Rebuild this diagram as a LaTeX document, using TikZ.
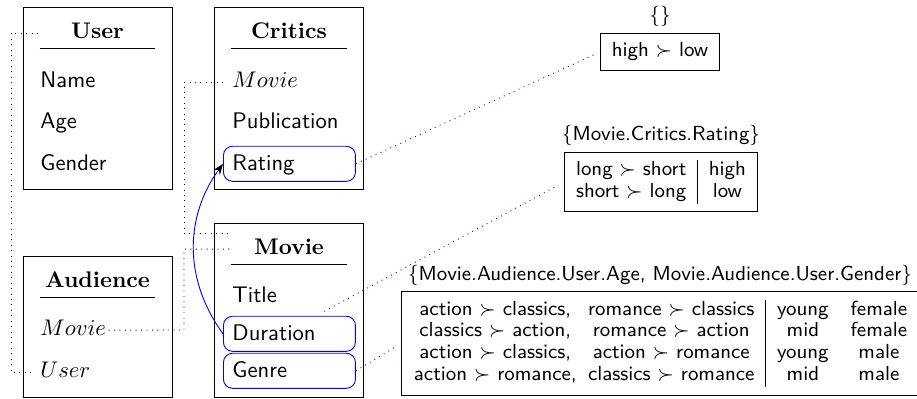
\documentclass[tikz,border=0pt]{standalone}
\usepackage{amssymb}
\usetikzlibrary{positioning,arrows.meta}
\setlength{\tabcolsep}{5pt}

\tikzset{
  entity/.style={draw, minimum width=65.9pt, inner sep=0pt},
  etitle/.style={font=\bfseries, text width=50.9pt, align=center, inner xsep=0pt, inner ysep=4.4pt, text depth=0pt, anchor=base},
  attr/.style={font=\sffamily, anchor=base west, inner xsep=4pt, inner ysep=3pt, text height=7.5pt, text depth=2pt},
  hl/.style={draw=blue, rounded corners=4pt, text width=50.4pt, align=left},
  ref/.style={dotted},
  pref/.style={draw, font=\sffamily\fontsize{9}{9.7}\selectfont, inner xsep=0pt, inner ysep=3.5pt},
  plabel/.style={font=\sffamily\fontsize{9}{9.7}\selectfont, inner sep=1.5pt},
  plink/.style={blue, dotted, shorten >=3pt},
}

\begin{document}
\begin{tikzpicture}[x=0.4425pt,y=-0.4425pt]
\useasboundingbox (0,0) rectangle (917,398);

\node[entity, minimum height=80.5pt] (user) at (97.5,98) {};
\node[etitle] (user-t) at (97.5,38) {User};
\draw (user-t.south west) -- (user-t.south east);
\node[attr] (us-name) at (31,87) {Name};
\node[attr] (us-age) at (31,128) {Age};
\node[attr] (us-gender) at (31,170) {Gender};

\node[entity, minimum height=80.5pt] (critics) at (289,98) {};
\node[etitle] (cr-t) at (289,38) {Critics};
\draw (cr-t.south west) -- (cr-t.south east);
\node[attr] (cr-movie) at (223,87) {$Movie$};
\node[attr] (cr-pub) at (223,128) {Publication};
\node[attr, hl] (cr-rating) at (223,170) {Rating};

\node[entity, minimum height=62.4pt] (audience) at (97.5,326.5) {};
\node[etitle] (au-t) at (97.5,287) {Audience};
\draw (au-t.south west) -- (au-t.south east);
\node[attr] (au-movie) at (31,335) {$Movie$};
\node[attr] (au-user) at (31,377) {$User$};

\node[entity, minimum height=77pt] (movie) at (289,310) {};
\node[etitle] (mv-t) at (289,254) {Movie};
\draw (mv-t.south west) -- (mv-t.south east);
\node[attr] (mv-title) at (223,302) {Title};
\node[attr, hl] (mv-dur) at (223,340) {Duration};
\node[attr, hl] (mv-genre) at (223,377) {Genre};

\draw[ref] (au-user.mid west) -- ++(-20,0) |- (user-t.mid west);
\draw[ref] (cr-movie.mid west) -- ++(-39,0) |- ([yshift=7pt]mv-t.mid west);
\draw[ref] ([xshift=-3pt]au-movie.mid east) -- (184,330) |- (mv-t.mid west);

\draw[blue, -{Stealth[black]}] (mv-dur.west) to[bend left=36] (cr-rating.west);

\node[pref] (p-rating) at (660,52) {\begin{tabular}{c}
high $\succ$ low
\end{tabular}};
\node[plabel, above=1pt of p-rating] (p-rating-l) {\{\}};

\node[pref] (p-dur) at (661,182) {\begin{tabular}{c|c}
long $\succ$ short & high \\
short $\succ$ long & low
\end{tabular}};
\node[plabel, above=1pt of p-dur] (p-dur-l) {\{Movie.Critics.Rating\}};

\node[pref] (p-genre) at (660,343.5) {\begin{tabular}{@{\hspace{5.5pt}}c@{\hspace{5pt}}c|c@{\hspace{9.7pt}}c@{\hspace{5pt}}}
action $\succ$ classics, & romance $\succ$ classics & young & female \\
classics $\succ$ action, & romance $\succ$ action & mid & female \\
action $\succ$ classics, & action $\succ$ romance & young & male \\
action $\succ$ romance, & classics $\succ$ romance & mid & male
\end{tabular}};
\node[plabel, above=1pt of p-genre] (p-genre-l) {\{Movie.Audience.User.Age, Movie.Audience.User.Gender\}};

\draw[plink] (cr-rating.east) -- (p-rating.west);
\draw[plink] ([xshift=-14pt,yshift=2pt]mv-dur.north east) -- (p-dur.west);
\draw[plink] (mv-genre.east) -- (p-genre.west);
\end{tikzpicture}
\end{document}
